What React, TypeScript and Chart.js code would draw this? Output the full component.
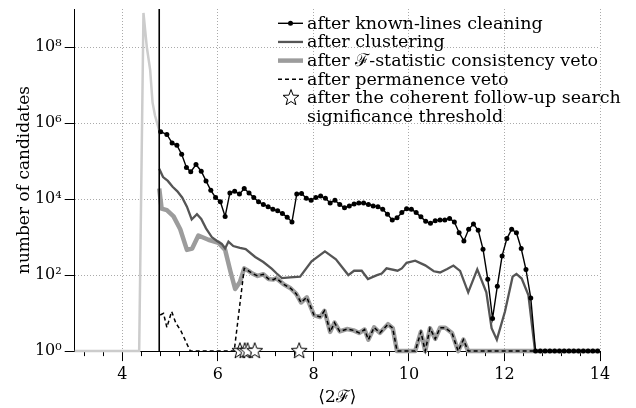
import React, { useEffect, useRef } from 'react';
import { Chart, registerables } from 'chart.js';

Chart.register(...registerables);

const FONT = "'DejaVu Serif', 'Liberation Serif', serif";

// ---------- data ----------
// light gray distribution (no legend entry)
const allX = [3.0, 4.35, 4.44, 4.51, 4.58, 4.63, 4.68, 4.77];
const allN = [1, 1, 7.9e8, 1.0e8, 2.5e7, 3.5e6, 1.6e6, 6.3e5];

// after known-lines cleaning
const knownX = [4.80, 4.93, 5.04, 5.14, 5.24, 5.34, 5.43, 5.54, 5.65, 5.75, 5.85, 5.95, 6.05, 6.15, 6.25, 6.35, 6.45, 6.55, 6.65, 6.75, 6.85, 6.95, 7.05, 7.15, 7.25, 7.35, 7.45, 7.55, 7.65, 7.75, 7.85, 7.95, 8.05, 8.15, 8.25, 8.35, 8.45, 8.55, 8.65, 8.75, 8.85, 8.95, 9.05, 9.15, 9.25, 9.35, 9.45, 9.55, 9.65, 9.75, 9.85, 9.95, 10.05, 10.15, 10.25, 10.35, 10.45, 10.55, 10.65, 10.75, 10.85, 10.95, 11.05, 11.15, 11.25, 11.35, 11.45, 11.55, 11.65, 11.75, 11.85, 11.95, 12.05, 12.15, 12.25, 12.35, 12.45, 12.55, 12.65, 12.75, 12.85, 12.95, 13.05, 13.15, 13.25, 13.35, 13.45, 13.55, 13.65, 13.75, 13.85, 13.95];
const knownN = [5.9e5, 5.0e5, 3.0e5, 2.6e5, 1.5e5, 6.8e4, 5.2e4, 8.1e4, 5.4e4, 3.0e4, 1.7e4, 1.1e4, 8.5e3, 3.5e3, 1.45e4, 1.6e4, 1.35e4, 1.9e4, 1.45e4, 1.1e4, 8.5e3, 7.2e3, 6.3e3, 5.4e3, 4.9e3, 4.2e3, 3.3e3, 2.5e3, 1.35e4, 1.4e4, 1.05e4, 9.3e3, 1.1e4, 1.2e4, 1.05e4, 7.9e3, 9.3e3, 7.2e3, 5.9e3, 6.6e3, 7.4e3, 7.9e3, 7.9e3, 7.2e3, 6.6e3, 6.3e3, 5.4e3, 4.0e3, 2.8e3, 3.2e3, 4.4e3, 5.6e3, 5.4e3, 4.4e3, 3.4e3, 2.6e3, 2.3e3, 2.7e3, 2.8e3, 2.8e3, 3.1e3, 2.5e3, 1.3e3, 790, 1.6e3, 2.2e3, 1.5e3, 480, 78, 7.2, 51, 320, 910, 1.6e3, 1.3e3, 500, 140, 25, 1, 1, 1, 1, 1, 1, 1, 1, 1, 1, 1, 1, 1, 1];

// after clustering
const clusterX = [4.77, 4.85, 4.95, 5.05, 5.15, 5.25, 5.35, 5.45, 5.56, 5.65, 5.75, 5.87, 5.98, 6.08, 6.15, 6.22, 6.32, 6.46, 6.58, 6.78, 6.95, 7.13, 7.23, 7.34, 7.51, 7.72, 7.96, 8.24, 8.47, 8.73, 8.85, 9.01, 9.14, 9.33, 9.43, 9.53, 9.76, 9.85, 9.95, 10.13, 10.34, 10.52, 10.65, 10.80, 10.93, 11.07, 11.24, 11.43, 11.62, 11.73, 11.84, 12.01, 12.17, 12.25, 12.36, 12.50, 12.64, 14.0];
const clusterN = [6.3e4, 3.8e4, 3.0e4, 2.1e4, 1.6e4, 1.1e4, 6.3e3, 2.9e3, 4.0e3, 3.0e3, 1.7e3, 1.0e3, 790, 660, 500, 760, 580, 520, 480, 300, 220, 145, 110, 83, 87, 91, 230, 420, 260, 100, 130, 130, 79, 100, 110, 150, 130, 150, 210, 240, 180, 126, 117, 145, 178, 129, 35, 141, 35, 4.0, 2.0, 11, 91, 107, 81, 30, 1, 1];

// after F-statistic consistency veto: part before it merges with permanence veto
const fstatX = [4.77, 4.77, 4.82, 4.93, 5.07, 5.21, 5.35, 5.46, 5.59, 5.80, 6.01, 6.15, 6.26, 6.36, 6.46];
const fstatN = [1.9e4, 1.9e4, 5.6e3, 5.1e3, 3.5e3, 1.6e3, 460, 500, 1.1e3, 850, 710, 460, 126, 43, 66];

// after permanence veto: part before it merges with F-stat veto
const permX = [4.79, 4.86, 4.93, 5.03, 5.12, 5.22, 5.42, 6.34];
const permN = [8.9, 9.8, 4.2, 11, 5.4, 3.5, 1, 1];

// shared part of both vetoes (x >= 6.55)
const vetoX = [6.55, 6.64, 6.72, 6.83, 6.95, 7.06, 7.16, 7.22, 7.37, 7.52, 7.64, 7.74, 7.86, 8.01, 8.14, 8.23, 8.35, 8.44, 8.55, 8.70, 8.84, 8.96, 9.07, 9.15, 9.27, 9.39, 9.56, 9.66, 9.75, 10.13, 10.25, 10.34, 10.44, 10.55, 10.65, 10.76, 10.90, 11.03, 11.14, 11.24, 14.0];
const vetoN = [150, 129, 110, 95, 105, 79, 76, 83, 58, 45, 32, 19, 26, 8.9, 7.9, 11.5, 3.2, 5.6, 3.3, 3.8, 3.5, 3.0, 3.7, 2.0, 4.2, 3.0, 5.1, 4.0, 1, 1, 3.2, 1, 4.0, 2.1, 4.1, 4.1, 3.0, 1, 2.0, 1, 1];

// after the coherent follow-up search
const followX = [6.46, 6.56, 6.62, 6.77, 7.70];
const followN = [1, 1, 1, 1, 1];

// significance threshold
const thresholdX = [4.77, 4.77];
const thresholdN = [1, 1e9];

const xMajorTicks = [4, 6, 8, 10, 12, 14];
const xMinorTicks = [3.2, 3.6, 4.0, 4.4, 4.8, 5.2, 5.6, 6.0, 6.4, 6.8, 7.2, 7.6, 8.0, 8.4, 8.8, 9.2, 9.6, 10.0, 10.4, 10.8, 11.2, 11.6, 12.0, 12.4, 12.8, 13.2, 13.6, 14.0];
const yTicks = [1, 1e2, 1e4, 1e6, 1e8];
const yTickLabels = ['10⁰', '10²', '10⁴', '10⁶', '10⁸'];

const legendLabels = [
  'after known-lines cleaning',
  'after clustering',
  'after ℱ-statistic consistency veto',
  'after permanence veto',
  'after the coherent follow-up search',
  'significance threshold',
];

const pts = (xs: number[], ys: number[]) => xs.map((x, i) => ({ x, y: ys[i] }));

function makeStar(): HTMLCanvasElement {
  const c = document.createElement('canvas');
  c.width = 20;
  c.height = 20;
  const g = c.getContext('2d')!;
  const R = 8.4, r = 3.5, cx = 10, cy = 10;
  g.beginPath();
  for (let i = 0; i < 10; i++) {
    const a = -Math.PI / 2 + (i * Math.PI) / 5;
    const rad = i % 2 === 0 ? R : r;
    const px = cx + rad * Math.cos(a), py = cy + rad * Math.sin(a);
    if (i === 0) g.moveTo(px, py); else g.lineTo(px, py);
  }
  g.closePath();
  g.fillStyle = '#fff';
  g.fill();
  g.lineWidth = 1;
  g.strokeStyle = '#000';
  g.stroke();
  return c;
}

export default function App() {
  const ref = useRef<HTMLCanvasElement | null>(null);

  useEffect(() => {
    if (!ref.current) return;
    const star = makeStar();

    const legendPlugin = {
      id: 'customLegend',
      afterDraw(chart: any) {
        const ctx = chart.ctx as CanvasRenderingContext2D;
        ctx.save();
        const x0 = 278, x1 = 303, tx = 307, y0 = 23.3, dy = 18.65;
        const rowY = (i: number) => y0 + i * dy;
        ctx.strokeStyle = '#000'; ctx.lineWidth = 1.4; ctx.setLineDash([]);
        ctx.beginPath(); ctx.moveTo(x0, rowY(0)); ctx.lineTo(x1, rowY(0)); ctx.stroke();
        ctx.fillStyle = '#000'; ctx.beginPath(); ctx.arc((x0 + x1) / 2, rowY(0), 2.5, 0, Math.PI * 2); ctx.fill();
        ctx.strokeStyle = '#555'; ctx.lineWidth = 2.3;
        ctx.beginPath(); ctx.moveTo(x0, rowY(1)); ctx.lineTo(x1, rowY(1)); ctx.stroke();
        ctx.strokeStyle = '#9c9c9c'; ctx.lineWidth = 4.5;
        ctx.beginPath(); ctx.moveTo(x0, rowY(2)); ctx.lineTo(x1, rowY(2)); ctx.stroke();
        ctx.strokeStyle = '#000'; ctx.lineWidth = 1.5; ctx.setLineDash([4, 3]);
        ctx.beginPath(); ctx.moveTo(x0, rowY(3)); ctx.lineTo(x1, rowY(3)); ctx.stroke();
        ctx.setLineDash([]);
        ctx.drawImage(star, 291 - 10, rowY(4) - 10);
        ctx.fillStyle = '#000';
        ctx.font = `17.5px ${FONT}`;
        ctx.textBaseline = 'alphabetic';
        ctx.textAlign = 'left';
        legendLabels.forEach((t, i) => ctx.fillText(t, tx, rowY(i) + 5.5));
        ctx.restore();
      },
    };

    const chart = new Chart(ref.current, {
      type: 'line',
      data: {
        datasets: [
          { label: 'all', data: pts(allX, allN), borderColor: '#cccccc', borderWidth: 2.5, pointRadius: 0, order: 7, clip: false } as any,
          { label: legendLabels[2], data: pts(fstatX.concat(vetoX), fstatN.concat(vetoN)), borderColor: '#9c9c9c', borderWidth: 4.5, pointRadius: 0, order: 6, clip: false, borderJoinStyle: 'round' },
          { label: legendLabels[1], data: pts(clusterX, clusterN), borderColor: '#555555', borderWidth: 2.3, pointRadius: 0, order: 5, clip: false },
          { label: legendLabels[3], data: pts(permX.concat(vetoX), permN.concat(vetoN)), borderColor: '#000', borderWidth: 1.5, borderDash: [4, 3], pointRadius: 0, order: 4, clip: false },
          { label: 'threshold', data: pts(thresholdX, thresholdN), borderColor: '#000', borderWidth: 1.6, pointRadius: 0, order: 3, clip: false },
          { label: legendLabels[0], data: pts(knownX, knownN), borderColor: '#000', borderWidth: 1.4, pointRadius: 2.5, pointBackgroundColor: '#000', pointBorderWidth: 0, order: 2, clip: false },
          { label: legendLabels[4], data: pts(followX, followN), showLine: false, pointStyle: star, pointRadius: 8, order: 1, clip: false },
        ] as any,
      },
      options: {
        animation: false,
        responsive: false,
        devicePixelRatio: 1,
        events: [],
        layout: { padding: { left: 0, top: 8.6, right: 36, bottom: 0 } },
        plugins: { legend: { display: false }, tooltip: { enabled: false } },
        elements: { line: { tension: 0 } },
        scales: {
          x: {
            type: 'linear',
            position: 'bottom',
            weight: 1,
            min: 3,
            max: 14,
            afterBuildTicks: (s: any) => { s.ticks = xMajorTicks.map((v) => ({ value: v })); },
            afterFit: (s: any) => { s.height = 56.9; s.paddingLeft = 0; s.paddingRight = 0; },
            ticks: { color: '#000', font: { family: FONT, size: 16 }, padding: 4, maxRotation: 0, autoSkip: false, callback: (v: any) => String(v) },
            grid: { color: '#aaaaaa', lineWidth: 1, tickColor: '#000', tickLength: 10, tickWidth: 1 },
            border: { display: true, color: '#000', width: 1, dash: [1, 2] },
            title: { display: true, text: '⟨2ℱ⟩', color: '#000', font: { family: FONT, size: 17 }, padding: { top: 0, bottom: 0 } },
          },
          xMinor: {
            type: 'linear',
            position: 'bottom',
            weight: 0,
            min: 3,
            max: 14,
            afterBuildTicks: (s: any) => { s.ticks = xMinorTicks.map((v) => ({ value: v })); },
            afterFit: (s: any) => { s.height = 0; s.paddingLeft = 0; s.paddingRight = 0; },
            ticks: { display: false },
            grid: { drawOnChartArea: false, drawTicks: true, tickLength: 5, tickColor: '#000', tickWidth: 1 },
            border: { display: false },
          },
          y: {
            type: 'logarithmic',
            min: 1,
            max: 1e9,
            afterBuildTicks: (s: any) => { s.ticks = yTicks.map((v) => ({ value: v })); },
            afterFit: (s: any) => { s.width = 74.7; s.paddingTop = 0; s.paddingBottom = 0; },
            ticks: {
              color: '#000',
              font: { family: FONT, size: 16 },
              padding: 3,
              callback: (v: any) => { const i = yTicks.indexOf(Number(v)); return i >= 0 ? yTickLabels[i] : ''; },
            },
            grid: {
              color: (c: any) => (c.tick && c.tick.value === 1 ? 'rgba(0,0,0,0)' : '#aaaaaa'),
              lineWidth: 1,
              tickColor: '#000',
              tickLength: 10,
              tickWidth: 1,
            },
            border: { display: true, color: '#000', width: 1, dash: [1, 2] },
            title: { display: true, text: 'number of candidates', color: '#000', font: { family: FONT, size: 17 }, padding: { top: 14, bottom: 0 } },
          },
        } as any,
      },
      plugins: [legendPlugin],
    });
    return () => chart.destroy();
  }, []);

  return (
    <div style={{ position: 'absolute', left: 0, top: 0, width: 636, height: 408, background: '#fff' }}>
      <canvas ref={ref} width={636} height={408} style={{ display: 'block' }} />
    </div>
  );
}
